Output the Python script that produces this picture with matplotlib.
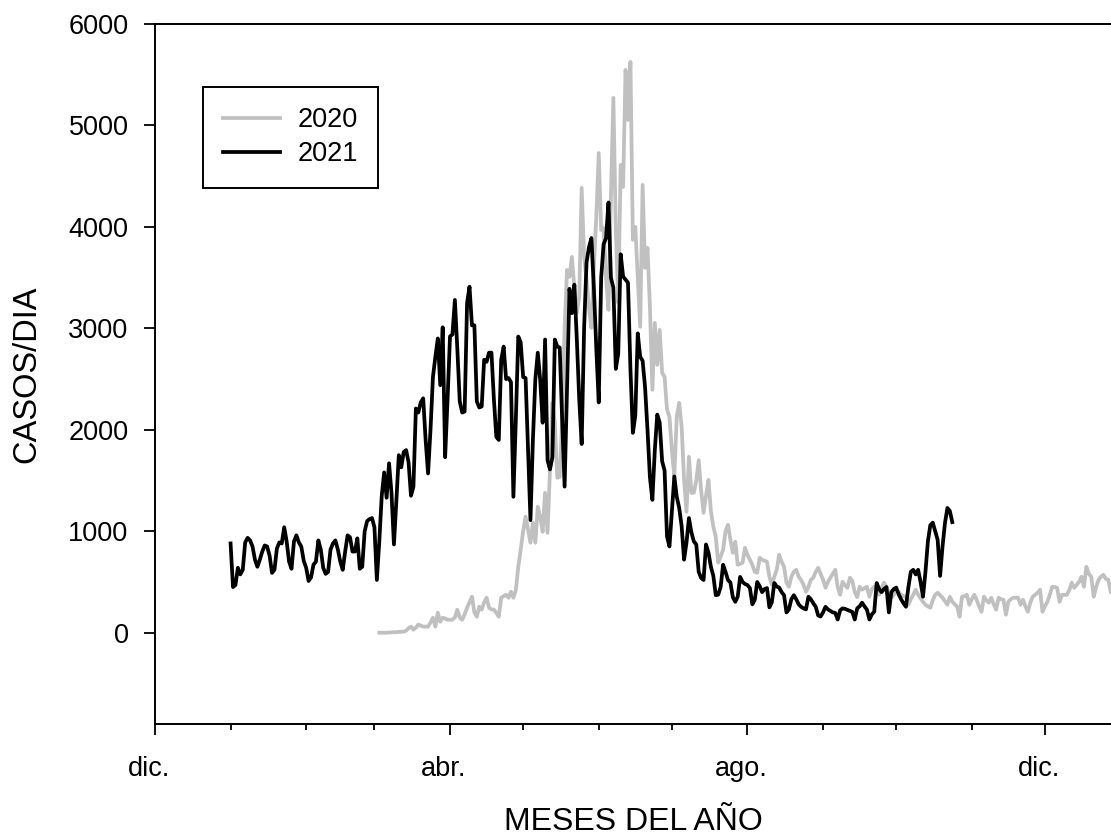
import matplotlib
matplotlib.use("Agg")
import matplotlib.pyplot as plt
import matplotlib.transforms as mtransforms
import numpy as np

# eje x: dias contados desde el 1 de diciembre
inicio_2020 = 92
inicio_2021 = 31

casos_2020 = [
    0, 0, 0, 0, 2, 3, 5, 5, 8, 10, 10,
    20, 45, 60, 30, 50, 80, 70, 60, 60, 60,
    100, 148, 60, 197, 108, 148, 140, 128, 128, 128,
    150, 227, 148, 128, 180, 246, 300, 355, 200, 158,
    256, 227, 300, 345, 246, 230, 227, 197, 158, 345,
    360, 374, 345, 404, 345, 420, 650, 818, 1000, 1143,
    1015, 887, 1084, 887, 1241, 1143, 995, 1379, 985, 1600,
    2266, 2069, 1527, 1537, 2100, 3000, 3576, 3507, 3704, 3400,
    3153, 3310, 4384, 3704, 3478, 3200, 3005, 3600, 4098, 4728,
    3970, 3990, 3500, 3182, 4300, 5271, 3970, 3251, 4611, 4394,
    5547, 5054, 5626, 3872, 4000, 3500, 3015, 4414, 3596, 3793,
    3212, 2394, 3054, 2640, 2985, 2562, 2522, 2200, 2128, 1800,
    1537, 2128, 2266, 2030, 1507, 1192, 1734, 1379, 1379, 1500,
    1700, 1400, 1182, 1350, 1507, 1200, 1044, 946, 690, 750,
    818, 1000, 1064, 916, 788, 897, 670, 680, 690, 837,
    768, 720, 670, 600, 591, 739, 719, 710, 700, 552,
    473, 550, 620, 768, 700, 650, 493, 453, 550, 601,
    620, 552, 520, 473, 404, 450, 522, 542, 600, 640,
    580, 522, 443, 500, 542, 580, 620, 450, 374, 502,
    470, 443, 542, 510, 400, 350, 453, 424, 440, 453,
    355, 430, 453, 453, 374, 440, 493, 453, 400, 345,
    374, 424, 400, 374, 360, 355, 276, 330, 374, 424,
    374, 340, 305, 276, 260, 246, 320, 374, 394, 370,
    345, 310, 276, 355, 305, 280, 256, 158, 355, 360,
    374, 276, 330, 374, 325, 260, 207, 355, 320, 296,
    345, 280, 227, 345, 330, 325, 177, 305, 330, 345,
    345, 345, 276, 325, 260, 207, 296, 355, 375, 394,
    424, 207, 260, 305, 374, 453, 450, 443, 305, 374,
    374, 374, 420, 493, 443, 470, 502, 552, 453, 650,
    580, 552, 355, 450, 522, 552, 571, 530, 522, 404,
]

casos_2021 = [
    880, 450, 470, 640, 575, 620, 890, 935, 910, 850,
    720, 650, 720, 800, 860, 850, 760, 590, 620, 830,
    890, 880, 1040, 900, 700, 630, 900, 960, 890, 850,
    710, 640, 510, 545, 670, 700, 910, 820, 640, 580,
    600, 820, 880, 910, 820, 700, 620, 800, 960, 940,
    800, 800, 930, 630, 650, 1000, 1100, 1120, 1130, 1040,
    520, 900, 1350, 1580, 1330, 1670,
    1380, 870, 1300, 1750, 1630, 1780, 1800, 1680, 1350, 1440,
    2210, 2170, 2270, 2310, 1900, 1570, 2000, 2520, 2720, 2900,
    2440, 3010, 1730, 2300, 2920, 2940, 3280, 2800, 2280, 2170,
    2180, 3250, 3410, 3030, 3030, 2280, 2220, 2230, 2690, 2670,
    2760, 2760, 2300, 1930, 1900, 2690, 2820, 2500, 2510, 2470,
    1340, 2100, 2920,
    2860, 2520, 2510, 1800, 1110, 1900, 2500, 2760, 2490, 2070,
    2890, 1700, 1610, 1730, 2890, 2820, 2810, 2100, 1440, 2400,
    3390, 3150, 3430, 2900, 2300, 1860, 3000, 3650, 3800, 3890,
    3400, 2800, 2270, 3500, 3830, 3890, 4240, 3500, 3400, 2600,
    2750, 3730, 3510, 3480, 3450, 2600, 1970, 2140, 2950, 2720,
    2680, 2420, 2000, 1530, 1310, 1800, 2150, 2070, 1690, 1600,
    950, 850, 1200, 1540, 1340, 1230, 1050, 720, 890, 1130,
    990, 900, 870, 600, 540, 520, 870, 790, 650, 560,
    370, 375, 450, 670, 600, 520, 495, 350, 305, 355,
    550, 500, 480, 470, 440, 280, 325, 500, 460, 400,
    430, 440, 250, 300, 490, 455, 445, 400, 370, 200,
    230, 330, 370, 330, 280, 255, 240, 230, 355, 330,
    290, 256, 170, 160, 200, 256, 230, 215, 200, 195,
    130, 220, 240, 235, 225, 215, 205, 130, 240, 260,
    296, 260, 227, 130, 180, 207, 490, 430, 400, 430,
    450, 200, 400, 430, 445, 380, 330, 290, 256, 450,
    600, 620, 575, 620, 500, 355, 600, 900, 1060, 1085,
    1000, 916, 560, 850, 1080, 1230, 1200, 1090,
]

# inicio de cada mes (dic. a dic.)
meses = [0, 31, 62, 90, 121, 151, 182, 212, 243, 274, 304, 335, 365]
meses_etiqueta = [0, 121, 243, 365]
etiquetas = ['dic.', 'abr.', 'ago.', 'dic.']

plt.rcParams['font.family'] = ['Liberation Sans', 'DejaVu Sans']

fig = plt.figure(figsize=(11.11, 8.38), dpi=100)
ax = fig.add_axes([0.1395, 0.1360, 0.8605, 0.8354])

dias_2020 = inicio_2020 + np.arange(len(casos_2020))
dias_2021 = inicio_2021 + np.arange(len(casos_2021))

ax.plot(dias_2020, casos_2020, color='#c0c0c0', lw=2.7, label='2020')
ax.plot(dias_2021, casos_2021, color='black', lw=2.7, label='2021')

ax.set_xlim(0, 392.1)
ax.set_ylim(-900, 6000)
ax.set_yticks(range(0, 6001, 1000))
ax.set_xticks(meses_etiqueta)
ax.set_xticklabels(etiquetas)
ax.set_xticks(meses, minor=True)

ax.tick_params(which='major', direction='out', length=8, width=1.3, labelsize=19.5)
ax.tick_params(axis='x', which='major', pad=15)
ax.tick_params(axis='y', which='major', pad=11)
ax.tick_params(which='minor', direction='out', length=4.5, width=1.3)
for lado in ['left', 'bottom', 'top']:
    ax.spines[lado].set_linewidth(1.4)
ax.spines['right'].set_visible(False)

# las etiquetas de mes quedan un poco a la izquierda de su marca
desplazamiento = mtransforms.ScaledTranslation(-0.06, 0, fig.dpi_scale_trans)
for etiqueta in ax.get_xticklabels():
    etiqueta.set_transform(etiqueta.get_transform() + desplazamiento)

ax.set_xlabel('MESES DEL AÑO', fontsize=23, labelpad=18)
ax.set_ylabel('CASOS/DIA', fontsize=23.5, labelpad=19)

leg = ax.legend(loc='upper left', bbox_to_anchor=(0.05, 0.91), fancybox=False,
                edgecolor='black', fontsize=19.5, handlelength=2.1, handletextpad=0.65,
                borderpad=0.75, labelspacing=0.3, borderaxespad=0, framealpha=1)
leg.get_frame().set_linewidth(1.4)

fig.savefig('out.png', dpi=100)
